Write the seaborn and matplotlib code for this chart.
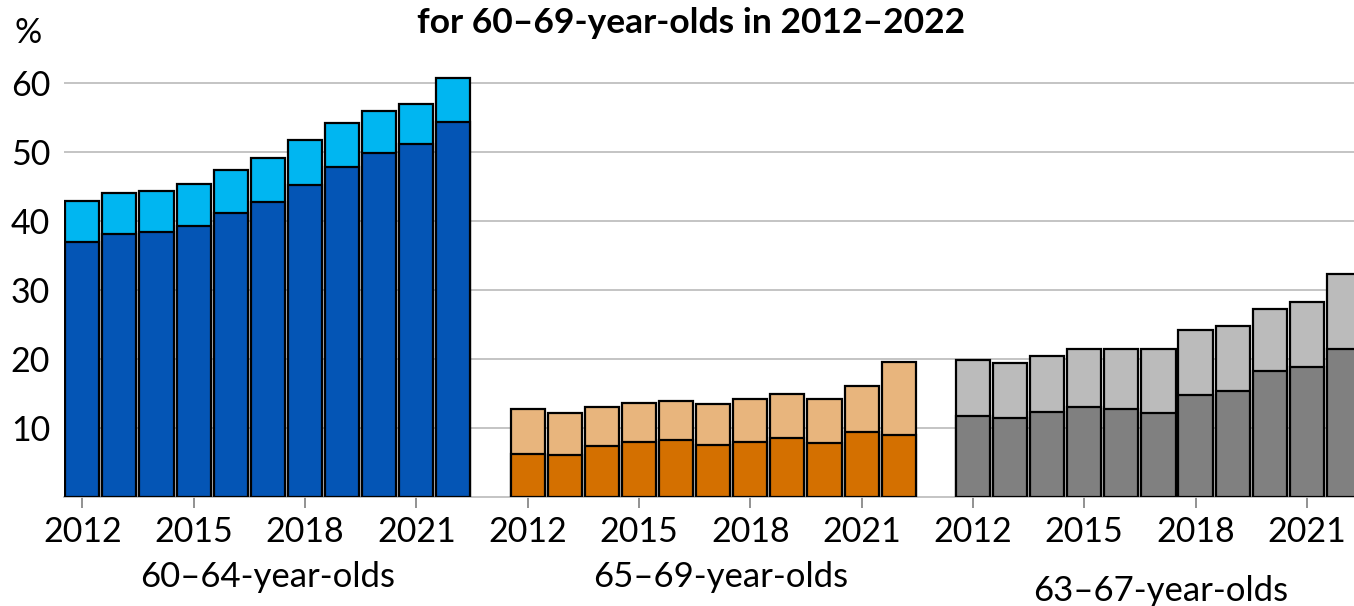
import matplotlib
matplotlib.use("Agg")
import matplotlib.pyplot as plt
import matplotlib.transforms as mtransforms
import pandas as pd
import seaborn as sns

# Share of 60–69-year-olds, two stacked components per year, three age bands
years = list(range(2012, 2023))
groups = ["60–64-year-olds", "65–69-year-olds", "63–67-year-olds"]

total_60_64 = [42.9, 44.1, 44.3, 45.4, 47.4, 49.2, 51.7, 54.2, 55.9, 56.9, 60.7]
lower_60_64 = [37.0, 38.1, 38.4, 39.3, 41.2, 42.7, 45.2, 47.8, 49.9, 51.1, 54.4]
total_65_69 = [12.8, 12.2, 13.1, 13.6, 13.9, 13.5, 14.2, 15.0, 14.2, 16.1, 19.5]
lower_65_69 = [6.2, 6.1, 7.4, 8.0, 8.2, 7.5, 7.9, 8.6, 7.8, 9.4, 9.0]
total_63_67 = [19.9, 19.4, 20.4, 21.4, 21.4, 21.4, 24.2, 24.8, 27.2, 28.2, 32.3]
lower_63_67 = [11.8, 11.4, 12.3, 13.0, 12.8, 12.2, 14.8, 15.3, 18.2, 18.9, 21.5]

year_ticks = [2012, 2015, 2018, 2021]
y_ticks = [10, 20, 30, 40, 50, 60]

title = "for 60–69-year-olds in 2012–2022"

totals = [total_60_64, total_65_69, total_63_67]
lowers = [lower_60_64, lower_65_69, lower_63_67]
light_colors = ["#00B6F1", "#E8B57D", "#BBBBBB"]
dark_colors = ["#0455B5", "#D47000", "#808080"]

# Each band occupies 11 slots followed by one empty slot
SLOTS = 12
rows = []
for gi, g in enumerate(groups):
    for yi, yr in enumerate(years):
        rows.append({"group": g, "year": yr, "slot": gi * SLOTS + (yr - years[0]),
                     "total": totals[gi][yi], "lower": lowers[gi][yi]})
df = pd.DataFrame(rows)

sns.set_style("white")
plt.rcParams["font.family"] = ["Lato", "DejaVu Sans"]

W, H = 1354, 606
fig = plt.figure(figsize=(W / 100, H / 100), dpi=100)
ax = fig.add_axes([64 / W, (H - 497) / H, (W - 64) / W, 427.8 / H])

for gi, g in enumerate(groups):
    sub = df[df["group"] == g]
    common = dict(data=sub, x="slot", native_scale=True, width=0.92,
                  edgecolor="black", linewidth=1.6, errorbar=None,
                  saturation=1, ax=ax, zorder=3)
    sns.barplot(y="total", color=light_colors[gi], **common)
    sns.barplot(y="lower", color=dark_colors[gi], **common)

ax.set_xlim(-0.493, 34.27)
ax.set_ylim(0, 62)
ax.set_xlabel("")
ax.set_ylabel("")

xt = [gi * SLOTS + (yr - years[0]) for gi in range(len(groups)) for yr in year_ticks]
ax.set_xticks(xt)
ax.set_xticklabels([str(yr) for _ in groups for yr in year_ticks])
ax.set_yticks(y_ticks)
ax.set_yticklabels([str(v) for v in y_ticks])

ax.tick_params(axis="x", length=8, width=1.2, color="#7F7F7F", pad=6,
               labelsize=24.5, labelcolor="black", direction="out", bottom=True)
ax.tick_params(axis="y", length=0, pad=10, labelsize=24.5, labelcolor="black")

ax.yaxis.grid(True, color="#BFBFBF", linewidth=1.3)
ax.set_axisbelow(True)
for side in ["left", "right", "top"]:
    ax.spines[side].set_visible(False)
ax.spines["bottom"].set_color("#BFBFBF")
ax.spines["bottom"].set_linewidth(1.3)

# Band names under each block of bars
blend = mtransforms.blended_transform_factory(ax.transData, fig.transFigure)
label_x = [5, 17.2, 29.05]
label_base = [587, 587, 601]
for g, lx, lb in zip(groups, label_x, label_base):
    ax.text(lx, 1 - lb / H, g, transform=blend, ha="center", va="baseline",
            fontsize=25, color="black")

fig.text(691 / W, 1 - 33 / H, title, ha="center", va="baseline",
         fontsize=25.5, fontweight="bold", color="black")
fig.text(15 / W, 1 - 43 / H, "%", ha="left", va="baseline",
         fontsize=24.5, color="black")

fig.savefig("out.png", dpi=100)
